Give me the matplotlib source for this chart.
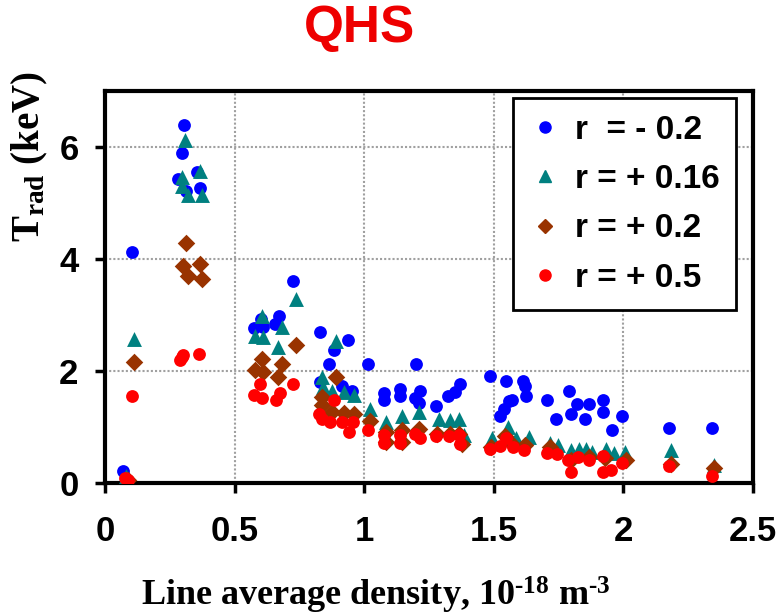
import matplotlib
matplotlib.use("Agg")
import matplotlib.pyplot as plt
from matplotlib.lines import Line2D

# ---- data ----
blue_x = [0.07, 0.103, 0.283, 0.296, 0.305, 0.311, 0.354, 0.367,
          0.575, 0.61, 0.60, 0.656, 0.673, 0.727,
          0.83, 0.83, 0.866, 0.884, 0.914, 0.937, 0.952, 1.014, 1.075, 1.075,
          1.139, 1.139, 1.199, 1.214, 1.197, 1.21, 1.277, 1.323, 1.351, 1.371,
          1.484, 1.548, 1.613, 1.622, 1.625, 1.57, 1.557, 1.538, 1.523,
          1.705, 1.789, 1.741, 1.798, 1.82, 1.868, 1.853, 1.923, 1.923,
          1.996, 1.956, 2.176, 2.342]
blue_y = [0.21, 4.12, 5.43, 5.90, 6.39, 5.22, 5.55, 5.26,
          2.77, 2.78, 2.93, 2.84, 2.99, 3.61,
          2.69, 1.80, 2.12, 2.37, 1.74, 2.56, 1.64, 2.12, 1.60, 1.48,
          1.67, 1.55, 2.13, 1.65, 1.51, 1.42, 1.37, 1.55, 1.63, 1.77,
          1.91, 1.83, 1.83, 1.74, 1.55, 1.48, 1.46, 1.33, 1.19,
          1.48, 1.65, 1.15, 1.23, 1.41, 1.41, 1.15, 1.48, 1.26,
          1.19, 0.94, 0.98, 0.98]

teal_x = [0.08, 0.112, 0.298, 0.298, 0.31, 0.319, 0.367, 0.373,
          0.605, 0.579, 0.611, 0.682, 0.667, 0.736,
          0.892, 0.837, 0.84, 0.875, 0.923, 0.961, 1.023, 1.085, 1.145, 1.21,
          1.287, 1.332, 1.364, 1.384, 1.493, 1.554, 1.587, 1.634,
          1.716, 1.748, 1.798, 1.827, 1.857, 1.88, 1.934, 1.963, 2.006,
          2.184, 2.351]
teal_y = [0.13, 2.57, 5.46, 5.30, 6.12, 5.15, 5.57, 5.15,
          2.99, 2.63, 2.60, 2.79, 2.43, 3.29,
          2.54, 1.89, 1.71, 1.65, 1.62, 1.58, 1.33, 1.09, 1.20, 1.27,
          1.15, 1.12, 1.15, 0.85, 0.80, 1.00, 0.80, 0.82,
          0.72, 0.68, 0.59, 0.60, 0.60, 0.55, 0.60, 0.54, 0.56,
          0.59, 0.32]

brown_x = [0.09, 0.112, 0.311, 0.30, 0.367, 0.319, 0.373,
           0.605, 0.579, 0.611, 0.682, 0.667, 0.736,
           0.892, 0.837, 0.837, 0.875, 0.923, 0.961, 1.023, 1.085, 1.145,
           1.085, 1.145, 1.21, 1.28, 1.332, 1.364, 1.377,
           1.49, 1.545, 1.57, 1.62, 1.716, 1.798, 1.866, 1.93, 2.01,
           2.185, 2.35]
brown_y = [0.05, 2.16, 4.29, 3.88, 3.91, 3.69, 3.65,
           2.22, 2.01, 1.98, 2.12, 1.90, 2.47,
           1.90, 1.54, 1.39, 1.27, 1.25, 1.24, 1.11, 0.91, 0.94,
           0.73, 0.73, 0.97, 0.88, 0.88, 0.88, 0.70,
           0.65, 0.84, 0.70, 0.68, 0.65, 0.41, 0.47, 0.44, 0.41,
           0.34, 0.26]

red_x = [0.077, 0.09, 0.103, 0.29, 0.296, 0.302, 0.363,
         0.598, 0.573, 0.605, 0.676, 0.66, 0.727,
         0.884, 0.827, 0.837, 0.869, 0.914, 0.956, 0.94, 1.014, 1.077, 1.077,
         1.139, 1.139, 1.197, 1.216, 1.278, 1.326, 1.364, 1.371,
         1.484, 1.525, 1.548, 1.576, 1.615, 1.705, 1.743, 1.788, 1.798,
         1.824, 1.868, 1.923, 1.921, 1.954, 1.996, 2.176, 2.342]
red_y = [0.09, 0.06, 1.55, 2.19, 2.25, 2.28, 2.31,
         1.77, 1.57, 1.52, 1.60, 1.48, 1.76,
         1.48, 1.24, 1.15, 1.09, 1.09, 1.09, 0.91, 0.94, 0.85, 0.71,
         0.85, 0.72, 0.88, 0.80, 0.84, 0.84, 0.85, 0.70,
         0.60, 0.66, 0.81, 0.65, 0.59, 0.53, 0.52, 0.41, 0.20,
         0.46, 0.41, 0.48, 0.20, 0.24, 0.35, 0.31, 0.12]

labels = ["r  = - 0.2", "r = + 0.16", "r = + 0.2", "r = + 0.5"]
x_ticks = [0, 0.5, 1, 1.5, 2, 2.5]
x_tick_labels = ["0", "0.5", "1", "1.5", "2", "2.5"]
y_ticks = [0, 2, 4, 6]

# ---- style ----
SANS = ["Liberation Sans Narrow", "Liberation Sans", "DejaVu Sans"]
SERIF = ["Liberation Serif", "DejaVu Serif"]
plt.rcParams["mathtext.fontset"] = "custom"
plt.rcParams["mathtext.rm"] = "Liberation Serif:bold"
plt.rcParams["mathtext.bf"] = "Liberation Serif:bold"
plt.rcParams["mathtext.it"] = "Liberation Serif:bold"

fig = plt.figure(figsize=(7.78, 6.15), dpi=100)
ax = fig.add_axes([105 / 778, 1 - 483 / 615, 648 / 778, 392 / 615])

c_blue, c_teal, c_brown, c_red = "#0000FF", "#008080", "#993300", "#FF0000"
ax.scatter(blue_x, blue_y, s=85, marker="o", color=c_blue, linewidths=0, zorder=3)
ax.scatter(teal_x, teal_y, s=115, marker="^", color=c_teal, linewidths=0, zorder=4)
ax.scatter(brown_x, brown_y, s=80, marker="D", color=c_brown, linewidths=0, zorder=5)
ax.scatter(red_x, red_y, s=85, marker="o", color=c_red, linewidths=0, zorder=6)

ax.set_xlim(0, 2.5)
ax.set_ylim(0, 7)
ax.set_xticks(x_ticks)
ax.set_xticklabels(x_tick_labels)
ax.set_yticks(y_ticks)
ax.grid(True, color="#A0A0A0", linestyle=(0, (1, 1)), linewidth=1.5, zorder=0)
ax.set_axisbelow(True)
for sp in ax.spines.values():
    sp.set_linewidth(3)
    sp.set_color("black")
ax.tick_params(direction="out", length=7, width=2.5, pad=12)
for lab in ax.get_xticklabels() + ax.get_yticklabels():
    lab.set_family(SANS)
    lab.set_fontweight("bold")
    lab.set_fontsize(25)
ax.tick_params(axis="x", pad=16)

handles = [
    Line2D([], [], linestyle="none", marker="o", color=c_blue, markersize=8),
    Line2D([], [], linestyle="none", marker="^", color=c_teal, markersize=9),
    Line2D([], [], linestyle="none", marker="D", color=c_brown, markersize=7),
    Line2D([], [], linestyle="none", marker="o", color=c_red, markersize=8),
]
leg = ax.legend(handles, labels, loc="upper right", bbox_to_anchor=(0.974, 0.982),
                borderaxespad=0, frameon=True, fancybox=False, framealpha=1,
                handlelength=0.9, handletextpad=0.45, labelspacing=0.55,
                borderpad=0.5,
                prop={"family": SANS, "weight": "bold", "size": 24})
leg.get_frame().set_edgecolor("black")
leg.get_frame().set_linewidth(2)
leg.set_zorder(10)

fig.text(360 / 778, 1 - 28 / 615, "QHS", color="#EE0000", fontsize=37,
         fontweight="bold", family=SANS, ha="center", va="center")
fig.text(30 / 778, 1 - 157 / 615, r"T$_{\mathbf{rad}}$ (keV)", rotation=90,
         fontsize=28, fontweight="bold", family=SERIF, ha="center", va="center")
fig.text(376 / 778, 1 - 606 / 615,
         "Line average density, 10$^{\\mathbf{\u201018}}$ m$^{\\mathbf{\u20103}}$",
         fontsize=26, fontweight="bold", family=SERIF, ha="center", va="baseline")

fig.savefig("out.png", dpi=100)
